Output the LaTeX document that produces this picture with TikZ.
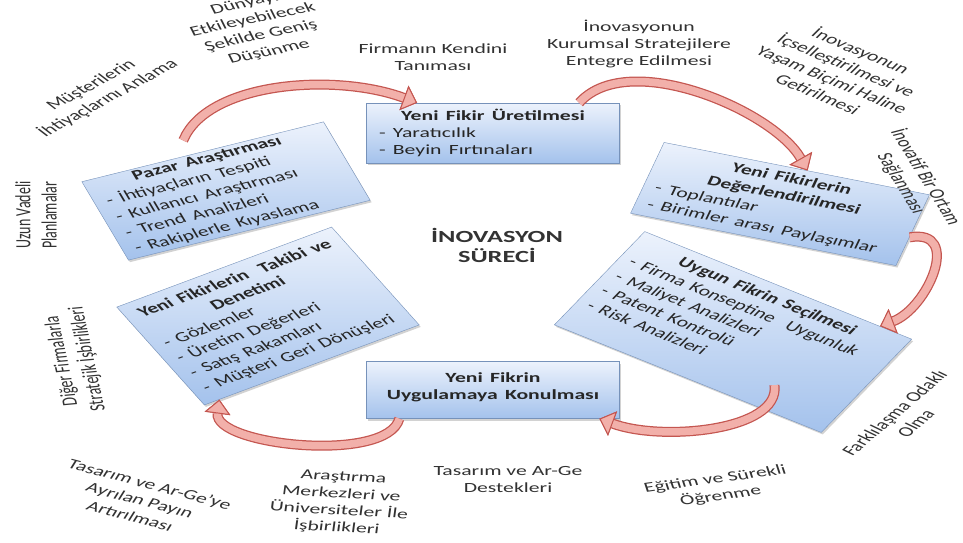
\documentclass[tikz,border=0pt]{standalone}
\usepackage{fontspec}
\setmainfont{Carlito}
\usepackage{tikz}
\usetikzlibrary{arrows.meta}
\usetikzlibrary{calc}
\usetikzlibrary{shadows}
\definecolor{boxtop}{RGB}{236,242,252}
\definecolor{boxbottom}{RGB}{164,194,236}
\definecolor{boxline}{RGB}{118,146,186}
\definecolor{flowfill}{RGB}{242,176,170}
\definecolor{flowline}{RGB}{196,86,80}
\definecolor{labeltext}{RGB}{50,50,50}
\tikzset{phase/.style={draw=boxline,top color=boxtop,bottom color=boxbottom,
                       drop shadow={shadow xshift=1.5pt,shadow yshift=-2pt,opacity=0.35},
                       align=left,inner xsep=8pt,inner ysep=2pt,text=black!85}}
\newcommand{\phasetitle}[1]{\makebox[\linewidth]{\bfseries #1}}

\begin{document}
\begin{tikzpicture}[x=0.64516pt,y=-1pt,xscale=1.55,
    every node/.style={transform shape},
    font=\fontsize{14}{17}\selectfont]
    % the whole picture is stretched sideways, so every node
    % takes the stretch too ("transform shape")
  \tikzstyle{tag}=[align=center,text=labeltext]
  \tikzstyle{flow}=[line width=7.5pt,draw=flowfill,
      -{Triangle[length=14pt,width=26pt,fill=flowfill,color=flowline,line width=1pt]},
      preaction={draw=flowline,line width=10pt,
      -{Triangle[length=14pt,width=26pt,fill=flowfill,color=flowline,line width=1pt]}}]
  \path[fill=white,use as bounding box] (0,0) rectangle (963,543);

  % The six steps of the process:
  \node (uret) [phase,text width=147pt,minimum height=60pt] at (493,133)
    {\phasetitle{Yeni Fikir Üretilmesi}\\- Yaratıcılık\\- Beyin Fırtınaları};
  \node (pazar) [phase,rotate=21,text width=151pt,minimum height=84pt] at (226,191)
    {\phasetitle{Pazar Araştırması}\\- İhtiyaçların Tespiti\\- Kullanıcı Araştırması\\- Trend Analizleri\\- Rakiplerle Kıyaslama};
  \node (eval) [phase,rotate=-17,text width=163pt,minimum height=74pt] at (780,204)
    {\phasetitle{Yeni Fikirlerin}\\\phasetitle{Değerlendirilmesi}\\- Toplantılar\\- Birimler arası Paylaşımlar};
  \node (pick) [phase,rotate=-32,text width=187pt,minimum height=110pt] at (733,332)
    {\phasetitle{Uygun Fikrin Seçilmesi}\\- Firma Konseptine~~Uygunluk\\- Maliyet Analizleri\\- Patent Kontrolü\\- Risk Analizleri\\~};
  \node (apply) [phase,text width=147pt,minimum height=57pt] at (493,390)
    {\phasetitle{Yeni Fikrin}\\\phasetitle{Uygulamaya Konulması}\\[-9pt]~};
  \node (track) [phase,rotate=30,text width=144pt,minimum height=113pt] at (268,316)
    {\phasetitle{Yeni Fikirlerin~~Takibi ve}\\\phasetitle{Denetimi}\\- Gözlemler\\- Üretim Değerleri\\- Satış Rakamları\\- Müşteri Geri Dönüşleri};

  \node (title) [align=center,text=black!80,font=\bfseries\fontsize{17}{20}\selectfont] at (497,245)
    {İNOVASYON\\SÜRECİ};

  % Labels round the circle
  \node (customers) [tag,rotate=40] at (100,92) {Müşterilerin\\İhtiyaçlarını Anlama};
  \node (world) [tag,rotate=18] at (257,28) {Dünyayı\\Etkileyebilecek\\Şekilde Geniş\\Düşünme};
  \node (self) [tag] at (433,57) {Firmanın Kendini\\Tanıması};
  \node (strategy) [tag] at (639,44) {İnovasyonun\\Kurumsal Stratejilere\\Entegre Edilmesi};
  \node (lifestyle) [tag,rotate=-33] at (840,72) {İnovasyonun\\İçselleştirilmesi ve\\Yaşam Biçimi Haline\\Getirilmesi};
  \node (climate) [tag,rotate=-68] at (914,180) {İnovatif Bir Ortam\\Sağlanması};
  \node (differ) [tag,rotate=53] at (905,418) {Farklılaşma Odaklı\\Olma};
  \node (learning) [tag,rotate=12] at (718,488) {Eğitim ve Sürekli\\Öğrenme};
  \node (support) [tag] at (508,480) {Tasarım ve Ar-Ge\\Destekleri};
  \node (centres) [tag,rotate=-5] at (340,503) {Araştırma\\Merkezleri ve\\Üniversiteler İle\\İşbirlikleri};
  \node (budget) [tag,rotate=-22] at (140,500) {Tasarım ve Ar-Ge’ye\\Ayrılan Payın\\Artırılması};
  \node (partners) [tag,rotate=98] at (75,360) {Diğer Firmalarla\\Stratejik İşbirlikleri};
  \node (longterm) [tag,rotate=90] at (36,215) {Uzun Vadeli\\Planlamalar};

  % The steps are joined by the curved arrows:
  \path
    ($(pazar.north west)!0.42!(pazar.north east)+(0,-16)$) edge[flow,out=75,in=150] ($(uret.north west)!0.2!(uret.north east)$)
    ($(uret.north west)!0.84!(uret.north east)$) edge[flow,out=60,in=110] ($(eval.north west)!0.54!(eval.north east)$)
    ($(eval.south east)!0.4!(eval.north east)$) edge[flow,out=15,in=30] ($(pick.north west)!0.88!(pick.north east)$)
    ($(pick.south west)!0.82!(pick.south east)!0.22!(pick.north)$) edge[flow,out=-85,in=-30] ($(apply.south west)!0.92!(apply.south east)$)
    ($(apply.south west)!0.13!(apply.south east)$) edge[flow,out=-100,in=-95] ($(track.south west)!0.07!(track.south east)$)
    ;
\end{tikzpicture}
\end{document}
